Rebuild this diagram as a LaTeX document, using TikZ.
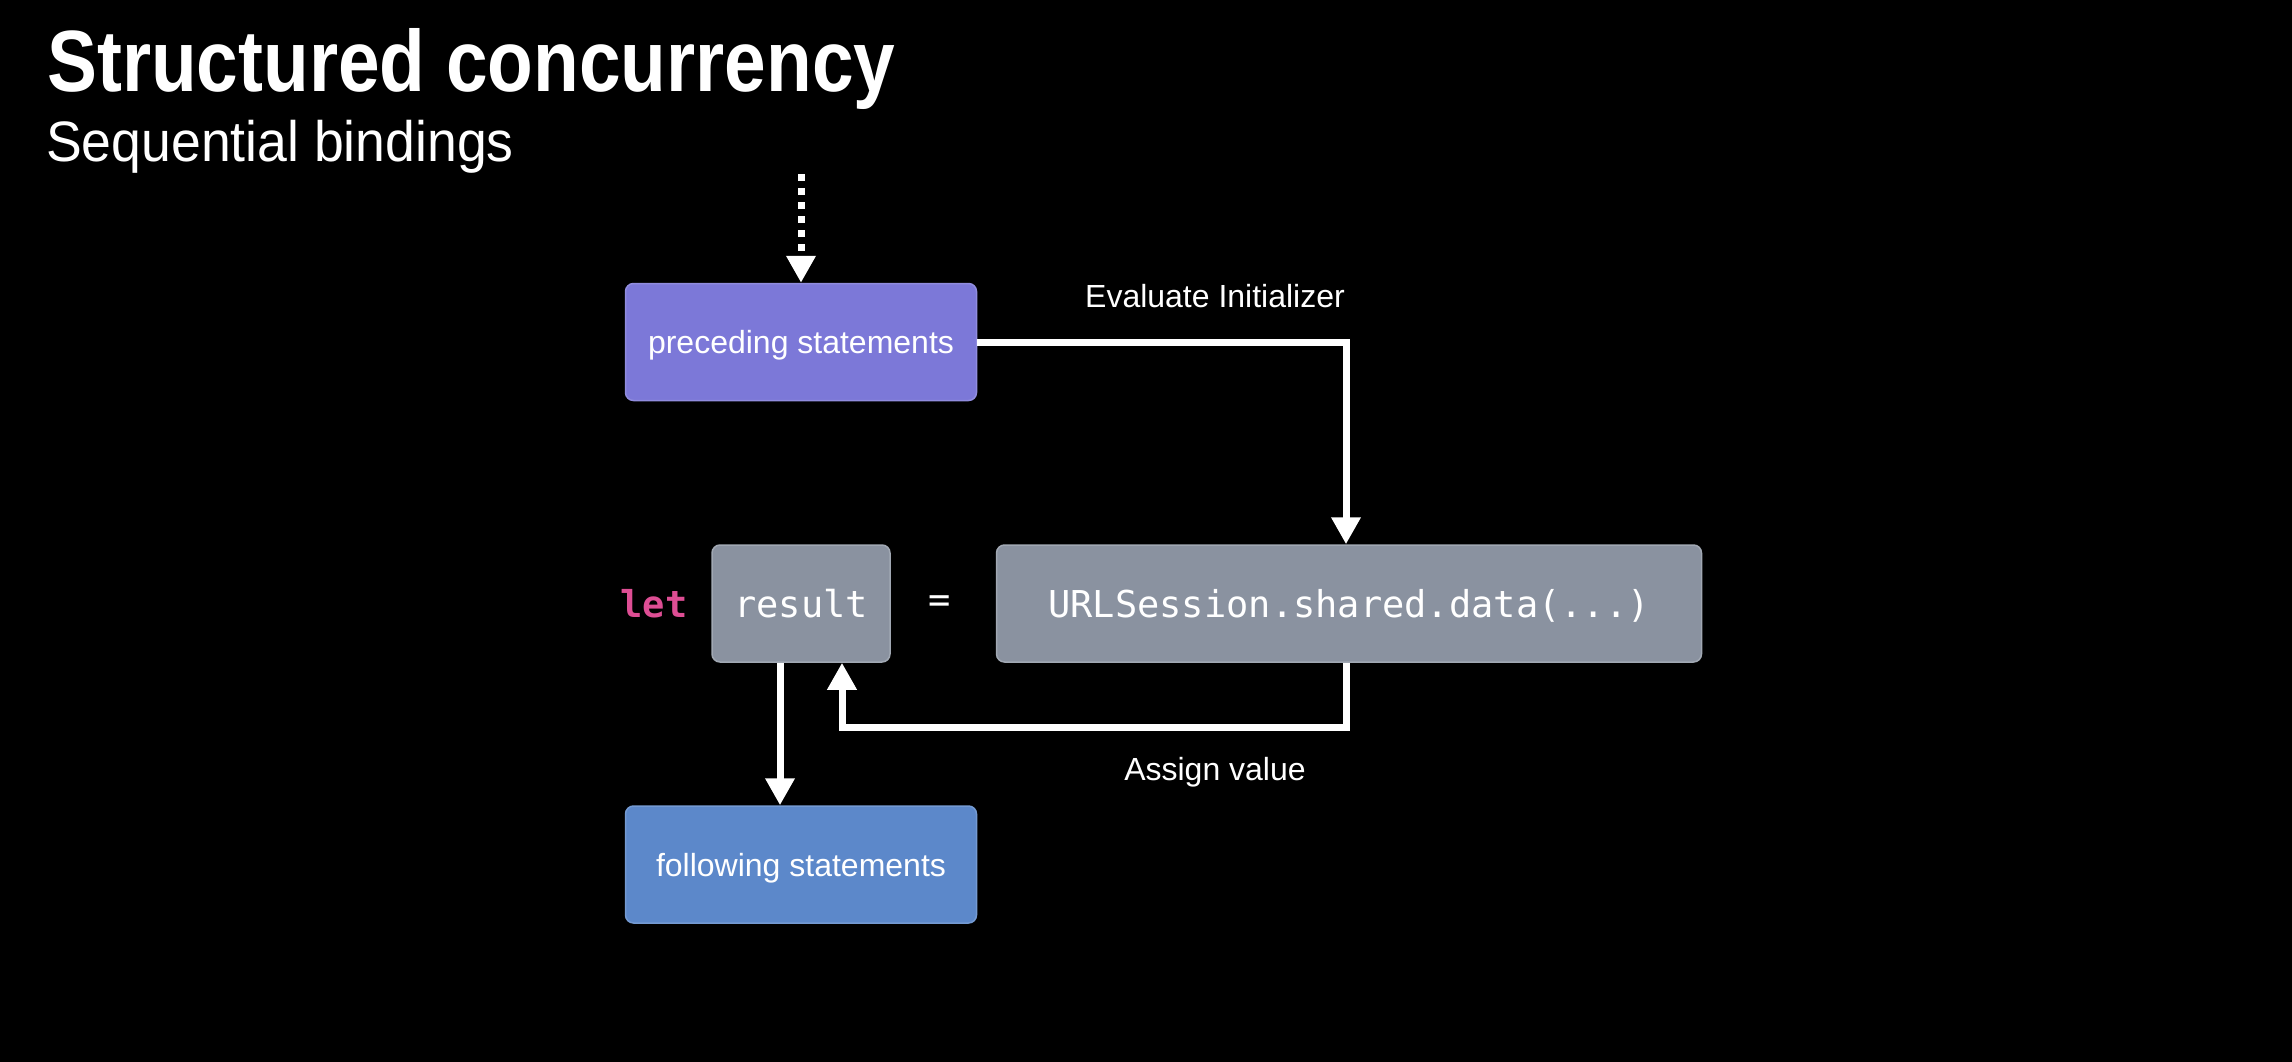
\documentclass[tikz,border=0pt]{standalone}
\usepackage{fontspec}
\setmainfont{Liberation Sans}
\setmonofont{DejaVu Sans Mono}
\newfontfamily\titlefont[FakeStretch=0.86]{Liberation Sans}
\newfontfamily\subfont[FakeStretch=0.94]{Liberation Sans}
\usetikzlibrary{arrows.meta,calc}
\definecolor{precol}{RGB}{124,120,216}
\definecolor{folcol}{RGB}{92,136,202}
\definecolor{greycol}{RGB}{138,146,160}
\definecolor{letcol}{RGB}{222,78,148}
\tikzset{
  box/.style={rectangle, rounded corners=8pt, minimum height=117pt, inner sep=0pt,
    text=white, font=\fontsize{32}{38}\selectfont, line width=1.5pt,
    text height=23pt, text depth=0pt},
  codebox/.style={box, fill=greycol, draw=greycol!80!white, font=\ttfamily\fontsize{37}{44}\selectfont,
    text height=27pt},
  conn/.style={draw=white, line width=7pt, -{Triangle[width=28pt,length=27pt]}},
  lbl/.style={text=white, font=\fontsize{32}{38}\selectfont, inner sep=0pt, text height=23pt, text depth=0pt}
}
\begin{document}
\begin{tikzpicture}[x=1pt,y=-1pt]
\fill[black] (0,0) rectangle (2292,1062);
\path[use as bounding box] (0,0) rectangle (2292,1062);

\node[anchor=base west, inner sep=0pt, text=white, font=\titlefont\bfseries\fontsize{87}{100}\selectfont] (title) at (47,92) {Structured concurrency};
\node[anchor=base west, inner sep=0pt, text=white, font=\subfont\fontsize{57}{66}\selectfont] (subtitle) at (46,161) {Sequential bindings};

\node[box, fill=precol, draw=precol!85!white, minimum width=351pt] (prec) at (801,342) {preceding statements};
\node[codebox, minimum width=178pt] (result) at (801,603.5) {result};
\node[codebox, minimum width=705pt] (url) at (1349,603.5) {URLSession.shared.data(...)};
\node[box, fill=folcol, draw=folcol!85!white, minimum width=351pt] (follow) at (801,864.5) {following statements};

\node[text=letcol, inner sep=0pt, text height=27pt, text depth=0pt, font=\ttfamily\bfseries\fontsize{37}{44}\selectfont] (let) at (654,604) {let};
\node[text=white, inner sep=0pt, font=\ttfamily\fontsize{37}{44}\selectfont] (eq) at (940,604) {=};

\node[lbl] (evl) at (1215,296) {Evaluate Initializer};
\node[lbl] (asg) at (1215,769) {Assign value};

\coordinate (start) at (801,174);
\draw[conn, dash pattern=on 7pt off 7pt] (start) -- (prec.north);
\draw[conn] (prec.east) -| ([xshift=-3pt]url.north);
\draw[conn] ([xshift=-3pt]url.south) |- ($(result.south)+(41,65)$) -- ([xshift=41pt]result.south);
\draw[conn] ([xshift=-21pt]result.south) -- ([xshift=-21pt]follow.north);
\end{tikzpicture}
\end{document}
